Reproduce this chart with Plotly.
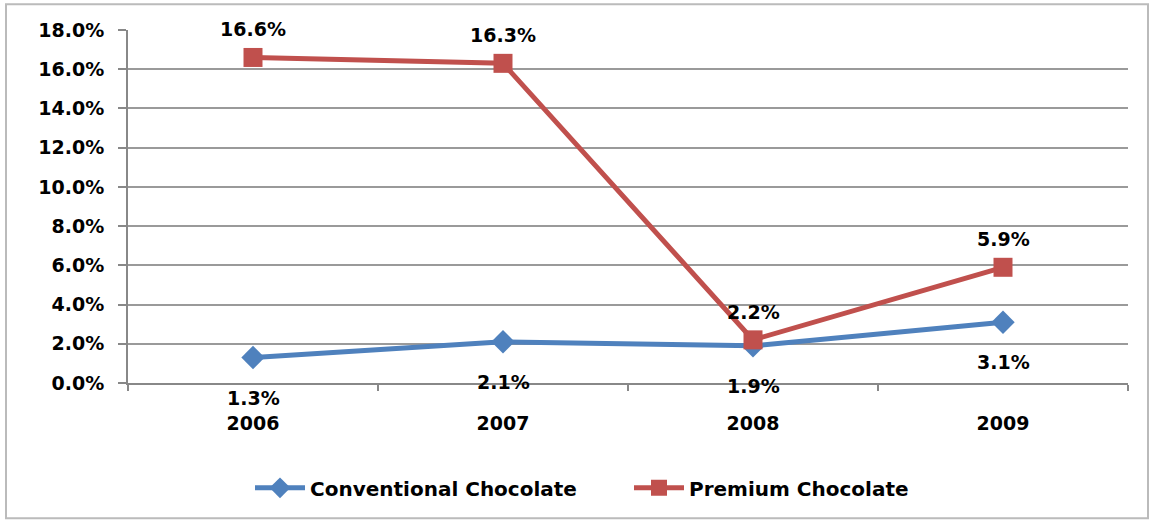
import plotly.graph_objects as go

years = ["2006", "2007", "2008", "2009"]
conventional = [1.3, 2.1, 1.9, 3.1]
premium = [16.6, 16.3, 2.2, 5.9]
conv_labels = ["1.3%", "2.1%", "1.9%", "3.1%"]
prem_labels = ["16.6%", "16.3%", "2.2%", "5.9%"]
y_ticks = [0, 2, 4, 6, 8, 10, 12, 14, 16, 18]
y_tick_text = ["0.0%", "2.0%", "4.0%", "6.0%", "8.0%", "10.0%", "12.0%", "14.0%", "16.0%", "18.0%"]

BLUE = "#4F81BD"
RED = "#C0504D"
tick_font = dict(family="DejaVu Sans", size=19, color="#000000", weight="bold")

fig = go.Figure()
fig.add_trace(go.Scatter(
    x=years, y=conventional, name="Conventional Chocolate", mode="lines+markers",
    line=dict(color=BLUE, width=5),
    marker=dict(symbol="diamond", size=18, color=BLUE),
))
fig.add_trace(go.Scatter(
    x=years, y=premium, name="Premium Chocolate", mode="lines+markers",
    line=dict(color=RED, width=5),
    marker=dict(symbol="square", size=19, color=RED),
))

annotations = []
for i, (v, t) in enumerate(zip(conventional, conv_labels)):
    annotations.append(dict(x=i, y=v, text=t, showarrow=False, yshift=-40,
                            font=tick_font, xref="x", yref="y"))
for i, (v, t) in enumerate(zip(premium, prem_labels)):
    annotations.append(dict(x=i, y=v, text=t, showarrow=False, yshift=28,
                            font=tick_font, xref="x", yref="y"))

fig.update_layout(
    width=1150, height=521,
    margin=dict(l=128, r=22, t=30, b=138),
    paper_bgcolor="white", plot_bgcolor="white",
    showlegend=True,
    legend=dict(orientation="h", x=0.122, xanchor="left", y=-0.297, yanchor="middle",
                font=dict(family="DejaVu Sans", size=20, color="#000000", weight="bold"),
                itemwidth=50, tracegroupgap=0,
                entrywidth=314, entrywidthmode="pixels"),
    annotations=annotations,
    shapes=[dict(type="rect", xref="paper", yref="paper",
                 x0=-0.122, x1=1.020, y0=-0.383, y1=1.073,
                 line=dict(color="#BBBBBB", width=2), layer="below")],
)
fig.update_xaxes(
    type="category", range=[-0.5, 3.5], showgrid=False, showline=True,
    linecolor="#888888", linewidth=2,
    ticks="outside", ticklen=6, tickcolor="#888888", tickwidth=2,
    tickson="boundaries", tickfont=tick_font, ticklabelstandoff=22, tickangle=0,
)
fig.update_yaxes(
    range=[0, 18], tickvals=y_ticks, ticktext=y_tick_text,
    showgrid=True, gridcolor="#9A9A9A", gridwidth=2,
    showline=True, linecolor="#888888", linewidth=2,
    ticks="outside", ticklen=8, tickcolor="#888888", tickwidth=2,
    tickfont=tick_font, ticklabelstandoff=10, zeroline=False,
)

fig.write_html("out.html")
